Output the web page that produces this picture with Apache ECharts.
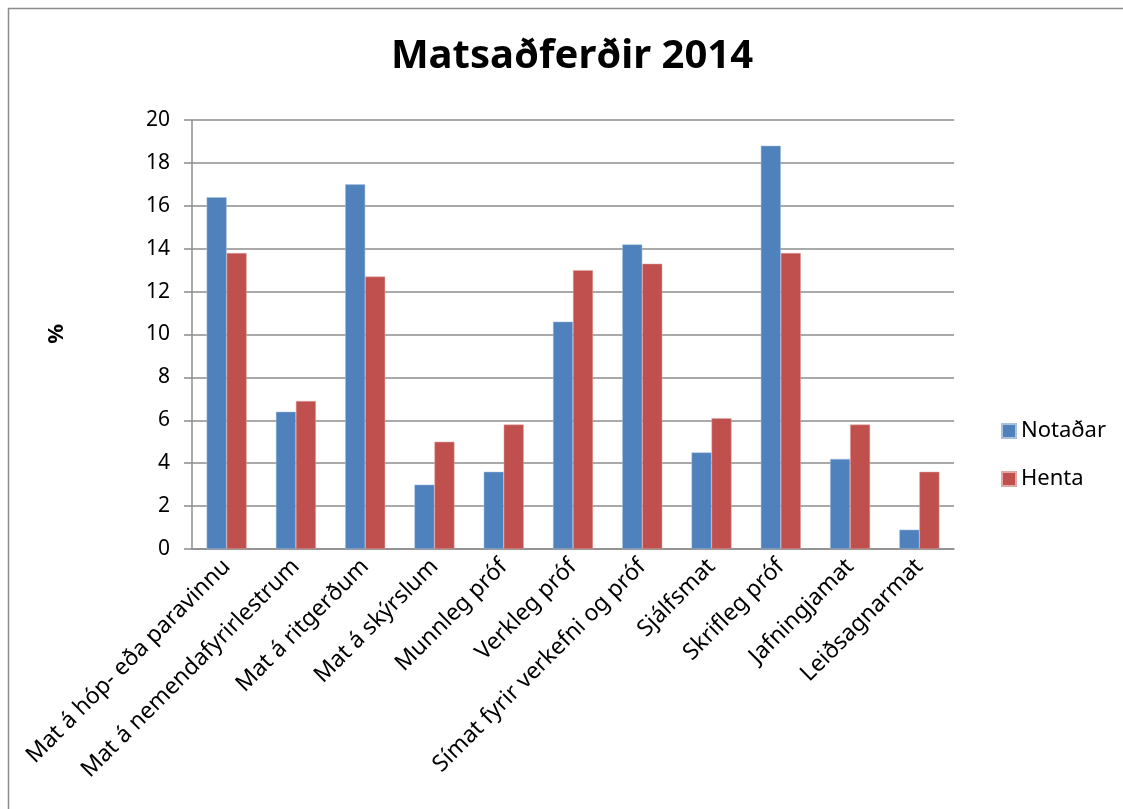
<!DOCTYPE html>
<html>
<head>
  <meta charset="utf-8" />
  <title>Matsaðferðir 2014</title>
  <script src="https://cdn.jsdelivr.net/npm/echarts@6/dist/echarts.min.js"></script>
  <style>
    body { margin: 0; padding: 0; overflow: hidden; background: #fff; }
  </style>
</head>
<body>
  <div id="main" style="width: 1123px; height: 809px;"></div>
  <script type="text/javascript">
    // flokkar og gildi
    const categories = [
      'Mat á hóp- eða paravinnu',
      'Mat á nemendafyrirlestrum',
      'Mat á ritgerðum',
      'Mat á skýrslum',
      'Munnleg próf',
      'Verkleg próf',
      'Símat fyrir verkefni og próf',
      'Sjálfsmat',
      'Skrifleg próf',
      'Jafningjamat',
      'Leiðsagnarmat'
    ];
    const notadar = [16.4, 6.4, 17.0, 3.0, 3.6, 10.6, 14.2, 4.5, 18.8, 4.2, 0.9];
    const henta = [13.8, 6.9, 12.7, 5.0, 5.8, 13.0, 13.3, 6.1, 13.8, 5.8, 3.6];

    const font = '"Noto Sans", "DejaVu Sans", sans-serif';
    const myChart = echarts.init(document.getElementById('main'));

    const option = {
      backgroundColor: '#fff',
      animation: false,
      title: {
        text: 'Matsaðferðir 2014',
        left: 567,
        top: 32,
        textAlign: 'center',
        textStyle: { fontFamily: font, fontSize: 40, fontWeight: 'bold', color: '#000' }
      },
      graphic: [
        {
          type: 'rect',
          shape: { x: 8.5, y: 8.5, width: 1130, height: 820 },
          style: { fill: 'none', stroke: '#8c8c8c', lineWidth: 1.5 },
          silent: true
        },
        {
          type: 'text',
          left: 46,
          top: 324,
          rotation: Math.PI / 2,
          style: { text: '%', font: 'bold 22px ' + font, fill: '#000' }
        }
      ],
      legend: {
        orient: 'vertical',
        left: 996,
        top: 415,
        icon: 'rect',
        itemWidth: 14,
        itemHeight: 14,
        itemGap: 26,
        textStyle: { fontFamily: font, fontSize: 22, color: '#000' },
        data: ['Notaðar', 'Henta']
      },
      grid: { left: 192, right: 169, top: 120, bottom: 260 },
      xAxis: {
        type: 'category',
        data: categories,
        axisLine: { lineStyle: { color: '#8c8c8c', width: 1.5 } },
        axisTick: { show: false },
        axisLabel: {
          rotate: 45,
          interval: 0,
          margin: 14,
          fontFamily: font,
          fontSize: 23,
          color: '#000'
        }
      },
      yAxis: {
        type: 'value',
        min: 0,
        max: 20,
        interval: 2,
        axisLine: { show: true, lineStyle: { color: '#8c8c8c', width: 1.5 } },
        axisTick: { show: true, inside: false, length: 8, lineStyle: { color: '#8c8c8c', width: 1.5 } },
        splitLine: { lineStyle: { color: '#8c8c8c', width: 1.5 } },
        axisLabel: { fontFamily: font, fontSize: 21, color: '#000', margin: 22 }
      },
      series: [
        {
          name: 'Notaðar',
          type: 'bar',
          data: notadar,
          barWidth: 20,
          barGap: '0%',
          itemStyle: { color: '#4f81bd', borderColor: '#a9c0df', borderWidth: 0.5 }
        },
        {
          name: 'Henta',
          type: 'bar',
          data: henta,
          barWidth: 20,
          itemStyle: { color: '#c0504d', borderColor: '#e0a9a7', borderWidth: 0.5 }
        }
      ]
    };
    myChart.setOption(option);
  </script>
</body>
</html>
